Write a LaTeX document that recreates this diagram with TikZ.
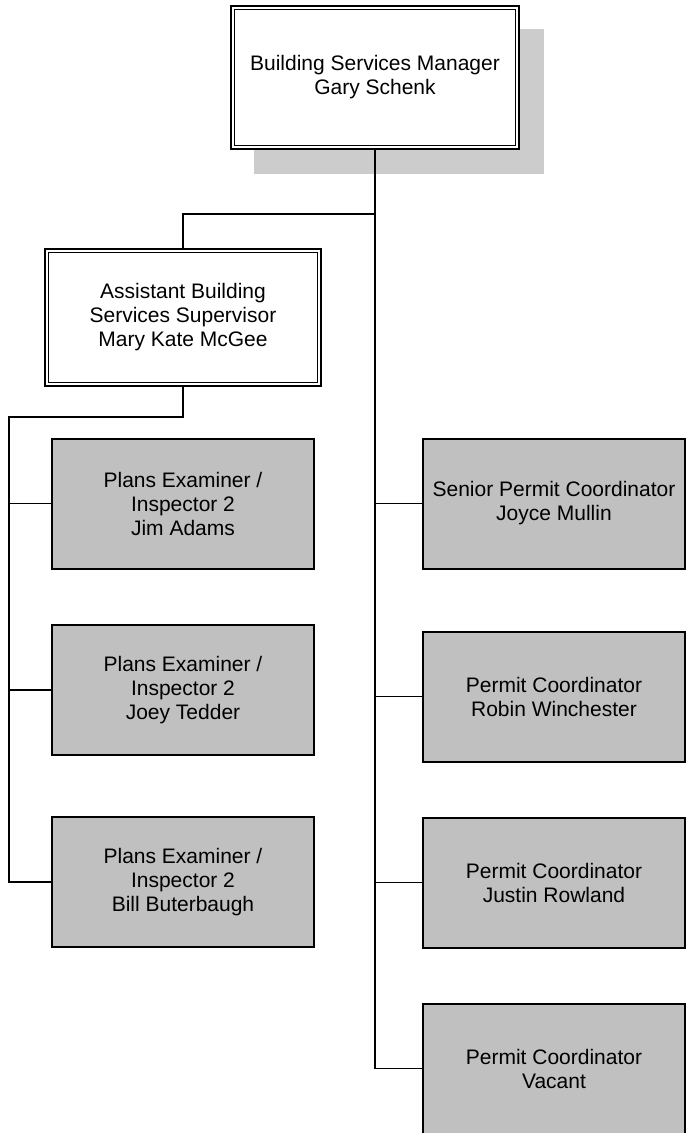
\documentclass[tikz,border=0pt]{standalone}
\usepackage{fontspec}
\setmainfont{Liberation Sans}
\usepackage{xcolor}
\usetikzlibrary{positioning, backgrounds, calc}
\definecolor{BoxGray}{RGB}{192,192,192}
\definecolor{ShadowGray}{RGB}{204,204,204}

\begin{document}
\begin{tikzpicture}[
  x=1pt, y=-1pt,
  font=\fontsize{21}{24}\selectfont,
  headbox/.style={rectangle, draw=black, fill=white, line width=1.6pt,
                  double=white, double distance=2.2pt, outer sep=0pt,
                  align=center, inner sep=0pt},
  staffbox/.style={rectangle, draw=black, fill=BoxGray, line width=2pt,
                   minimum width=262pt, minimum height=130pt, outer sep=0pt,
                   align=center, inner sep=0pt},
  conn/.style={black, line width=1.9pt}
]
\useasboundingbox (0,0) rectangle (687,1133);

% Manager
\node[headbox, minimum width=284.6pt, minimum height=139.6pt] at (375,77.5) (mgr)
  {Building Services Manager\\Gary Schenk};

% Assistant supervisor
\node[headbox, minimum width=272.6pt, minimum height=133.6pt,
      below=103.4pt of mgr, xshift=-192pt] (asst)
  {Assistant Building\\Services Supervisor\\Mary Kate McGee};

% Plans examiners
\node[staffbox, below=54.2pt of asst]  (jim)  {Plans Examiner /\\Inspector 2\\Jim Adams};
\node[staffbox, below=56.5pt of jim]   (joey) {Plans Examiner /\\Inspector 2\\Joey Tedder};
\node[staffbox, below=62pt of joey]    (bill) {Plans Examiner /\\Inspector 2\\Bill Buterbaugh};

% Permit coordinators
\node[staffbox, right=109pt of jim]    (senior) {Senior Permit Coordinator\\Joyce Mullin};
\node[staffbox, below=63pt of senior]  (robin)  {Permit Coordinator\\Robin Winchester};
\node[staffbox, below=56pt of robin]   (justin) {Permit Coordinator\\Justin Rowland};
\node[staffbox, below=56pt of justin]  (vacant) {Permit Coordinator\\Vacant};

% Split points
\coordinate[below=66.7pt of mgr.south]  (mgrsplit);
\coordinate[below=32.7pt of asst.south] (asstsplit);
\coordinate[left=174pt of asstsplit]    (leftrail);

\begin{scope}[on background layer]
  % Shadow
  \fill[ShadowGray] ($(mgr.south west)+(20.8pt,-26.7pt)$) rectangle
                    ($(mgr.north east)+(26.2pt,-21.3pt)$);
  % Connectors
  \draw[conn] (mgr.south) -- (mgr.south |- vacant.west) -- (vacant.west);
  \draw[conn] (mgrsplit) -| (asst.north);
  \foreach \n in {senior,robin,justin}
    \draw[conn] (mgr.south |- \n.west) -- (\n.west);
  \draw[conn] (asst.south) -- (asstsplit) -- (leftrail) |- (bill.west);
  \foreach \n in {jim,joey}
    \draw[conn] (leftrail |- \n.west) -- (\n.west);
\end{scope}

\end{tikzpicture}
\end{document}
